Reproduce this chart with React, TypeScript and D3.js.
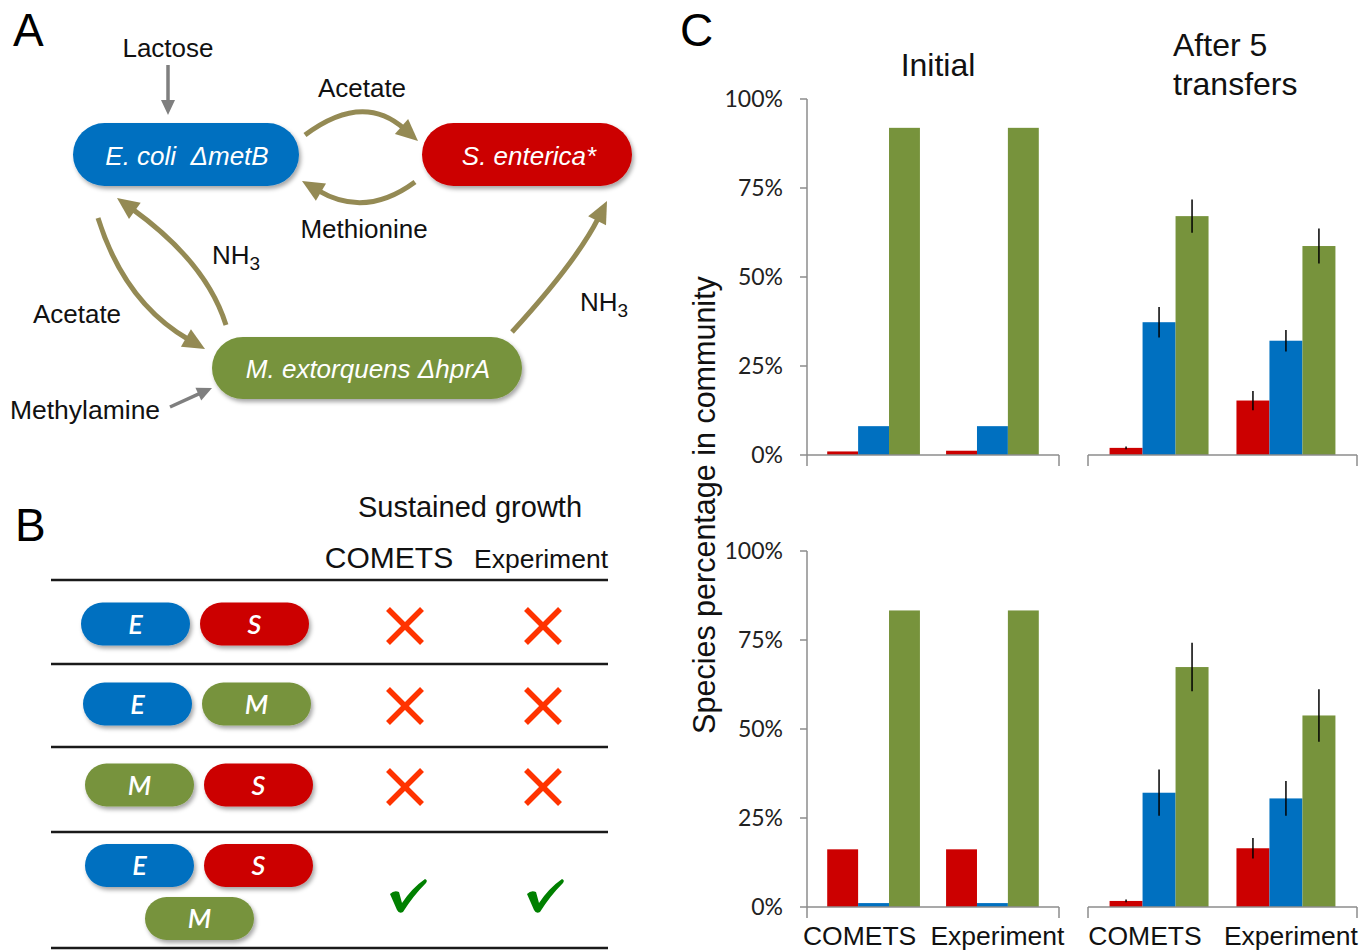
import React from "react";
import * as d3 from "d3";

// ---------- DATA ----------
const species = ["S. enterica", "E. coli", "M. extorquens"];
const speciesColors = ["#CC0000", "#0070C0", "#77933C"];
const conditions = ["COMETS", "Experiment"];
const yTicks = [0, 25, 50, 75, 100];
const panelTitles = ["Initial", "After 5 transfers"];

// order: COMETS (S, E, M), Experiment (S, E, M)
const topInitial = [1.0, 8.1, 91.9, 1.2, 8.1, 91.9];
const topAfter = [2.0, 37.3, 67.1, 15.3, 32.1, 58.7];
const topAfterErr = [0.4, 4.3, 4.7, 2.7, 3.0, 4.9];
const bottomInitial = [16.2, 1.1, 83.3, 16.2, 1.1, 83.3];
const bottomAfter = [1.7, 32.1, 67.4, 16.5, 30.5, 53.8];
const bottomAfterErr = [0.4, 6.5, 6.8, 2.9, 4.9, 7.4];

// Panel B table
const pairLetters = [["E", "S"], ["E", "M"], ["M", "S"], ["E", "S", "M"]];
const cometsGrowth = [false, false, false, true];
const experimentGrowth = [false, false, false, true];
const letterColor: Record<string, string> = { E: "#0070C0", S: "#CC0000", M: "#77933C" };

const ARIAL = "'Liberation Sans', Arial, sans-serif";
const CALIBRI = "Lato, 'Open Sans', sans-serif";
const OLIVE = "#948A54";
const GRAY = "#7F7F7F";
const AXIS = "#8C8C8C";

// ---------- helpers ----------
type Pt = [number, number];
function CurvedArrow({ p0, mid, p2, color, width, headL, headW }: { p0: Pt; mid: Pt; p2: Pt; color: string; width: number; headL: number; headW: number }) {
  const c: Pt = [2 * mid[0] - (p0[0] + p2[0]) / 2, 2 * mid[1] - (p0[1] + p2[1]) / 2];
  const dx = p2[0] - c[0], dy = p2[1] - c[1];
  const len = Math.hypot(dx, dy);
  const ux = dx / len, uy = dy / len;
  const end: Pt = [p2[0] - ux * (headL - 3), p2[1] - uy * (headL - 3)];
  const base: Pt = [p2[0] - ux * headL, p2[1] - uy * headL];
  const nx = -uy, ny = ux;
  const head = `M${p2[0]},${p2[1]} L${base[0] + nx * headW / 2},${base[1] + ny * headW / 2} L${base[0] - nx * headW / 2},${base[1] - ny * headW / 2} Z`;
  const path = d3.path();
  path.moveTo(p0[0], p0[1]);
  path.quadraticCurveTo(c[0], c[1], end[0], end[1]);
  return (
    <g>
      <path d={path.toString()} fill="none" stroke={color} strokeWidth={width} />
      <path d={head} fill={color} />
    </g>
  );
}

function StraightArrow({ p0, p2, color, width, headL, headW }: { p0: Pt; p2: Pt; color: string; width: number; headL: number; headW: number }) {
  const mid: Pt = [(p0[0] + p2[0]) / 2, (p0[1] + p2[1]) / 2];
  return <CurvedArrow p0={p0} mid={mid} p2={p2} color={color} width={width} headL={headL} headW={headW} />;
}

function Pill({ x, y, w, h, fill, children }: { x: number; y: number; w: number; h: number; fill: string; children?: React.ReactNode }) {
  return (
    <g>
      <rect x={x} y={y} width={w} height={h} rx={h / 2} ry={h / 2} fill={fill} filter="url(#shadow)" />
      {children}
    </g>
  );
}

function Cross({ cx, cy }: { cx: number; cy: number }) {
  const r = 17;
  return (
    <g stroke="#FF3300" strokeWidth={5.5}>
      <line x1={cx - r} y1={cy - r} x2={cx + r} y2={cy + r} />
      <line x1={cx - r} y1={cy + r} x2={cx + r} y2={cy - r} />
    </g>
  );
}

function Check({ cx, cy }: { cx: number; cy: number }) {
  const d = "M-18,-2 Q-14,-6 -9,-4 L-6,7 Q4,-8 17,-17 Q20,-16 18,-13 Q5,0 -5,16 Q-9,18 -11,14 Z";
  return <path d={d} transform={`translate(${cx},${cy})`} fill="#008000" />;
}

// ---------- chart ----------
function BarChart({ values, errs, range, y, showYAxis, showLabels }: { values: number[]; errs?: number[]; range: [number, number]; y: d3.ScaleLinear<number, number>; showYAxis: boolean; showLabels: boolean }) {
  const x0 = d3.scaleBand<string>().domain(conditions).range(range).paddingInner(0.22).paddingOuter(0.17);
  const x1 = d3.scaleBand<string>().domain(species).range([0, x0.bandwidth()]);
  const y0 = y(0);
  return (
    <g>
      {values.map((v, i) => {
        const cond = conditions[Math.floor(i / 3)];
        const sp = species[i % 3];
        const bx = (x0(cond) as number) + (x1(sp) as number);
        return <rect key={i} x={bx} y={y(v)} width={x1.bandwidth()} height={y0 - y(v)} fill={speciesColors[i % 3]} />;
      })}
      {errs && values.map((v, i) => {
        const cond = conditions[Math.floor(i / 3)];
        const sp = species[i % 3];
        const cx = (x0(cond) as number) + (x1(sp) as number) + x1.bandwidth() / 2;
        return <line key={"e" + i} x1={cx} x2={cx} y1={y(v + errs[i])} y2={y(v - errs[i])} stroke="#000" strokeWidth={1.5} />;
      })}
      {/* x axis */}
      <line x1={range[0]} x2={range[1]} y1={y0} y2={y0} stroke={AXIS} strokeWidth={1.5} />
      <line x1={range[0]} x2={range[0]} y1={y0} y2={y0 + 11} stroke={AXIS} strokeWidth={1.5} />
      <line x1={range[1]} x2={range[1]} y1={y0} y2={y0 + 11} stroke={AXIS} strokeWidth={1.5} />
      {showYAxis && (
        <g>
          <line x1={range[0]} x2={range[0]} y1={y(100)} y2={y0} stroke={AXIS} strokeWidth={1.5} />
          {yTicks.map((t) => (
            <g key={t}>
              <line x1={range[0] - 7} x2={range[0]} y1={y(t)} y2={y(t)} stroke={AXIS} strokeWidth={1.5} />
              <text x={range[0] - 24} y={y(t)} dy="0.36em" textAnchor="end" fontFamily={CALIBRI} fontSize={23} fill="#222">{t}%</text>
            </g>
          ))}
        </g>
      )}
      {showLabels && conditions.map((c, i) => (
        <text key={c} x={(x0(c) as number) + x0.bandwidth() / 2 + (i === 0 ? -14 : 5)} y={945} textAnchor="middle" fontFamily={ARIAL} fontSize={26.5} fill="#111">{c}</text>
      ))}
    </g>
  );
}

export default function App() {
  const yTop = d3.scaleLinear().domain([0, 100]).range([455, 99]);
  const yBot = d3.scaleLinear().domain([0, 100]).range([907, 551]);
  const leftRange: [number, number] = [807, 1059];
  const rightRange: [number, number] = [1088, 1357];

  const rowLines = [580, 664, 747, 832, 948];
  const rowCenters = [624, 704, 785, 892];
  const pillW = 109, pillH = 43;

  return (
    <svg width={1368} height={950} style={{ position: "absolute", left: 0, top: 0, background: "#fff" }}>
      <defs>
        <filter id="shadow" x="-20%" y="-30%" width="140%" height="180%">
          <feDropShadow dx="2" dy="3" stdDeviation="2.2" floodColor="#000" floodOpacity="0.35" />
        </filter>
      </defs>

      {/* ---------------- Panel A ---------------- */}
      <text x={13} y={46} fontFamily={ARIAL} fontSize={46} fill="#000">A</text>
      <text x={168} y={57} textAnchor="middle" fontFamily={ARIAL} fontSize={26} fill="#111">Lactose</text>
      <StraightArrow p0={[168, 65]} p2={[168, 115]} color={GRAY} width={3.5} headL={15} headW={14} />

      <Pill x={73} y={123} w={226} h={63} fill="#0070C0">
        <text x={187} y={165} textAnchor="middle" fontFamily={ARIAL} fontStyle="italic" fontSize={26} fill="#fff">E. coli{"\u00A0\u00A0"}ΔmetB</text>
      </Pill>
      <Pill x={422} y={123} w={210} h={63} fill="#CC0000">
        <text x={529} y={165} textAnchor="middle" fontFamily={ARIAL} fontStyle="italic" fontSize={26} fill="#fff">S. enterica*</text>
      </Pill>
      <Pill x={212} y={337} w={310} h={62} fill="#77933C">
        <text x={368} y={378} textAnchor="middle" fontFamily={ARIAL} fontStyle="italic" fontSize={26} fill="#fff">M. extorquens ΔhprA</text>
      </Pill>

      <text x={362} y={97} textAnchor="middle" fontFamily={ARIAL} fontSize={26} fill="#111">Acetate</text>
      <CurvedArrow p0={[305, 135]} mid={[362, 115]} p2={[418, 141]} color={OLIVE} width={5} headL={22} headW={20} />
      <CurvedArrow p0={[415, 182]} mid={[362, 200]} p2={[302, 181]} color={OLIVE} width={5} headL={22} headW={20} />
      <text x={364} y={238} textAnchor="middle" fontFamily={ARIAL} fontSize={26} fill="#111">Methionine</text>

      <CurvedArrow p0={[226, 325]} mid={[189, 262]} p2={[117, 198]} color={OLIVE} width={5} headL={22} headW={20} />
      <text x={212} y={264} fontFamily={ARIAL} fontSize={26} fill="#111">NH<tspan dy={6} fontSize={19}>3</tspan></text>
      <CurvedArrow p0={[98, 218]} mid={[138, 293]} p2={[205, 349]} color={OLIVE} width={5} headL={22} headW={20} />
      <text x={77} y={323} textAnchor="middle" fontFamily={ARIAL} fontSize={26} fill="#111">Acetate</text>
      <CurvedArrow p0={[512, 332]} mid={[568, 264]} p2={[607, 201]} color={OLIVE} width={5} headL={22} headW={20} />
      <text x={580} y={311} fontFamily={ARIAL} fontSize={26} fill="#111">NH<tspan dy={6} fontSize={19}>3</tspan></text>

      <text x={85} y={419} textAnchor="middle" fontFamily={ARIAL} fontSize={26.5} fill="#111">Methylamine</text>
      <StraightArrow p0={[170, 407]} p2={[212, 388]} color={GRAY} width={3.5} headL={15} headW={14} />

      {/* ---------------- Panel B ---------------- */}
      <text x={15} y={541} fontFamily={ARIAL} fontSize={46} fill="#000">B</text>
      <text x={470} y={517} textAnchor="middle" fontFamily={ARIAL} fontSize={29} fill="#111">Sustained growth</text>
      <text x={389} y={568} textAnchor="middle" fontFamily={ARIAL} fontSize={30} fill="#111">COMETS</text>
      <text x={541} y={568} textAnchor="middle" fontFamily={ARIAL} fontSize={26.5} fill="#111">Experiment</text>
      {rowLines.map((ly) => (
        <line key={ly} x1={51} x2={608} y1={ly} y2={ly} stroke="#1a1a1a" strokeWidth={2.5} />
      ))}
      {pairLetters.map((letters, r) => {
        const cy = rowCenters[r];
        const items: { l: string; x: number; y: number }[] = [];
        if (letters.length === 2) {
          const x0 = 81 + r * 2;
          items.push({ l: letters[0], x: x0, y: cy - pillH / 2 });
          items.push({ l: letters[1], x: x0 + pillW + 10, y: cy - pillH / 2 });
        } else {
          items.push({ l: letters[0], x: 85, y: 844 });
          items.push({ l: letters[1], x: 204, y: 844 });
          items.push({ l: letters[2], x: 145, y: 897 });
        }
        return (
          <g key={r}>
            {items.map((it, k) => (
              <Pill key={k} x={it.x} y={it.y} w={pillW} h={pillH} fill={letterColor[it.l]}>
                <text x={it.x + pillW / 2} y={it.y + pillH / 2} dy="0.36em" textAnchor="middle" fontFamily={CALIBRI} fontStyle="italic" fontWeight={600} fontSize={27} fill="#fff">{it.l}</text>
              </Pill>
            ))}
            {cometsGrowth[r] ? <Check cx={408} cy={cy + 4} /> : <Cross cx={405} cy={cy + 2} />}
            {experimentGrowth[r] ? <Check cx={545} cy={cy + 4} /> : <Cross cx={543} cy={cy + 2} />}
          </g>
        );
      })}

      {/* ---------------- Panel C ---------------- */}
      <text x={680} y={46} fontFamily={ARIAL} fontSize={46} fill="#000">C</text>
      <text x={938} y={76} textAnchor="middle" fontFamily={ARIAL} fontSize={32} fill="#111">{panelTitles[0]}</text>
      <text x={1173} y={56} fontFamily={ARIAL} fontSize={32} fill="#111">{panelTitles[1].split(" ").slice(0, 2).join(" ")}</text>
      <text x={1173} y={95} fontFamily={ARIAL} fontSize={32} fill="#111">{panelTitles[1].split(" ").slice(2).join(" ")}</text>
      <text transform="translate(715,505) rotate(-90)" textAnchor="middle" fontFamily={ARIAL} fontSize={30.5} fill="#111">Species percentage in community</text>

      <BarChart values={topInitial} range={leftRange} y={yTop} showYAxis={true} showLabels={false} />
      <BarChart values={topAfter} errs={topAfterErr} range={rightRange} y={yTop} showYAxis={false} showLabels={false} />
      <BarChart values={bottomInitial} range={leftRange} y={yBot} showYAxis={true} showLabels={true} />
      <BarChart values={bottomAfter} errs={bottomAfterErr} range={rightRange} y={yBot} showYAxis={false} showLabels={true} />
    </svg>
  );
}
